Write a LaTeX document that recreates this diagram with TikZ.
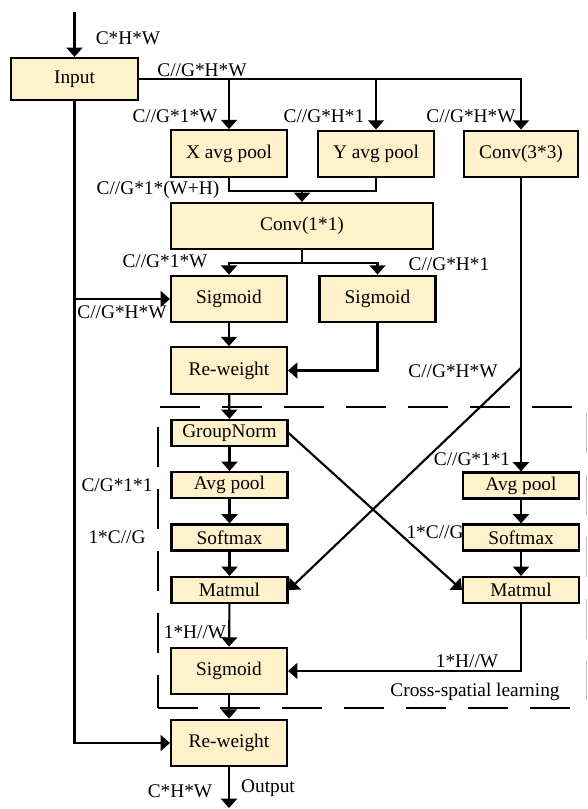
\documentclass[tikz,border=0pt]{standalone}
\usepackage{fontspec}
\setmainfont{Liberation Serif}
\usetikzlibrary{arrows.meta}
\definecolor{boxfill}{RGB}{255,241,201}
\begin{document}
\begin{tikzpicture}[x=0.75pt,y=-0.75pt,
  font=\fontsize{14.5}{17}\selectfont,
  line width=1.6pt,
  box/.style={draw,rectangle,fill=boxfill,inner sep=0pt,minimum width=87pt,minimum height=35pt},
  slim/.style={box,minimum height=19.5pt},
  arr/.style={-{Triangle[width=12pt,length=7pt]}},
  lbl/.style={inner sep=0pt,anchor=base},
  frame/.style={line width=1.4pt,dash pattern=on 30pt off 16.5pt}]
\useasboundingbox (0,0) rectangle (587,809);
\node[box,minimum width=95pt,minimum height=31.5pt] (input) at (74.5,79) {Input};
\node[box] (xpool) at (229,153.5) {X avg pool};
\node[box] (ypool) at (376,154) {Y avg pool};
\node[box,minimum width=85.5pt] (conv3) at (521,154) {Conv(3*3)};
\node[box,minimum width=196.5pt,minimum height=34.5pt] (conv1) at (302,226) {Conv(1*1)};
\node[box] (sigl) at (229,299) {Sigmoid};
\node[box] (sigr) at (377.5,299) {Sigmoid};
\node[box] (rw1) at (229,370.5) {Re-weight};
\node[slim] (gn) at (229.5,433) {GroupNorm};
\node[slim] (apl) at (229.5,485) {Avg pool};
\node[slim] (sml) at (229.5,537.5) {Softmax};
\node[slim] (mml) at (229.5,590) {Matmul};
\node[slim] (apr) at (521,485.5) {Avg pool};
\node[slim] (smr) at (521,537.5) {Softmax};
\node[slim] (mmr) at (521,590) {Matmul};
\node[box] (sig2) at (229,671) {Sigmoid};
\node[box] (rw2) at (229,743) {Re-weight};
\coordinate (in) at (74.5,12);
\coordinate (mrg) at (302,191);
\coordinate (spl) at (302,263);
\coordinate (dg) at (521,368);
\coordinate (out) at (229,808);
\draw[arr] (in) -- (input);
\draw[arr] (input.east) -| (conv3.north);
\draw[arr] (input.east -| xpool.north) -- (xpool.north);
\draw[arr] (input.east -| ypool.north) -- (ypool.north);
\draw (xpool.south) |- (mrg);
\draw (ypool.south) |- (mrg);
\draw[arr] (mrg) -- (conv1.north);
\draw (conv1.south) -- (spl);
\draw[arr] (spl) -| (sigl.north);
\draw[arr] (spl) -| (sigr.north);
\draw[arr] (input.south) |- (rw2.west);
\draw[arr] (input.south |- sigl.west) -- (sigl.west);
\draw[arr] (sigl) -- (rw1);
\draw[arr] (sigr.south) |- (rw1.east);
\draw[arr] (conv3) -- (apr);
\draw[arr] (dg) -- (mml.east);
\draw[arr] (rw1) -- (gn);
\draw[arr] (gn) -- (apl);
\draw[arr] (apl) -- (sml);
\draw[arr] (sml) -- (mml);
\draw[arr] (mml) -- (sig2);
\draw[arr] (sig2) -- (rw2);
\draw[arr] (gn.east) -- (mmr.west);
\draw[arr] (apr) -- (smr);
\draw[arr] (smr) -- (mmr);
\draw[arr] (mmr.south) |- (sig2.east);
\draw[arr] (rw2) -- (out);
\draw[frame] (572,407) -- (158,407) -- (158,708);
\draw[frame] (158,708) -- (572,708);
\draw[frame,draw=gray!50,line width=0.6pt] (586,413) -- (586,700);
\node[lbl] (chw1) at (128,45) {C*H*W};
\node[lbl] (cghw1) at (202,77) {C//G*H*W};
\node[lbl] (cgw1) at (175,123) {C//G*1*W};
\node[lbl] (cgh1) at (324,123) {C//G*H*1};
\node[lbl] (cghw2) at (471,123) {C//G*H*W};
\node[lbl] (cgwh) at (158,195) {C//G*1*(W+H)};
\node[lbl] (cgw2) at (165,267) {C//G*1*W};
\node[lbl] (cgh2) at (449,270) {C//G*H*1};
\node[lbl] (cghw3) at (122,318) {C//G*H*W};
\node[lbl] (cghw4) at (453,377) {C//G*H*W};
\node[lbl] (cg11r) at (472,465) {C//G*1*1};
\node[lbl] (cg11l) at (117,491) {C/G*1*1};
\node[lbl] (cgl) at (117,543) {1*C//G};
\node[lbl] (cgr) at (435,538) {1*C//G};
\node[lbl] (hwl) at (195,638) {1*H//W};
\node[lbl] (hwr) at (467,667) {1*H//W};
\node[lbl] (csl) at (475,696) {Cross-spatial learning};
\node[lbl] (chw2) at (180,797) {C*H*W};
\node[lbl] (outl) at (268,792) {Output};
\end{tikzpicture}
\end{document}
